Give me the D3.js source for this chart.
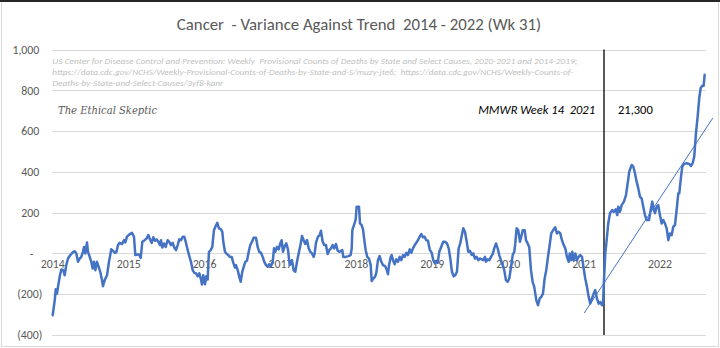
<!DOCTYPE html>
<html>
<head>
<meta charset="utf-8">
<script src="https://cdn.jsdelivr.net/npm/d3@7"></script>
<style>
  html, body { margin: 0; padding: 0; background: #fff; }
  svg { display: block; }
  text { font-family: Carlito, Lato, "Open Sans", sans-serif; }
</style>
</head>
<body>
<svg id="chart" width="720" height="348"></svg>
<script>
// ---- DATA ----
const chartTitle = "Cancer  - Variance Against Trend  2014 - 2022 (Wk 31)";
const sourceLines = [
  "US Center for Disease Control and Prevention: Weekly  Provisional Counts of Deaths by State and Select Causes, 2020-2021 and 2014-2019;",
  "https://data.cdc.gov/NCHS/Weekly-Provisional-Counts-of-Deaths-by-State-and-S/muzy-jte6;  https://data.cdc.gov/NCHS/Weekly-Counts-of-",
  "Deaths-by-State-and-Select-Causes/3yf8-kanr"
];
const brandText = "The Ethical Skeptic";
const markerLabel = "MMWR Week 14  2021";
const markerValueLabel = "21,300";
const markerYear = 2021.269;

const yTicks = [-400, -200, 0, 200, 400, 600, 800, 1000];
const yTickLabels = ["(400)", "(200)", "-", "200", "400", "600", "800", "1,000"];
const yearTicks = [2014, 2015, 2016, 2017, 2018, 2019, 2020, 2021, 2022];
const xDomain = [2014, 2022.613];

// trend line end points (decimal year, variance)
const trendYears = [2021.009, 2022.701];
const trendValues = [-292, 663];

// weekly variance series: decimal year and value
const weeks = [2014.005,2014.032,2014.045,2014.062,2014.075,2014.101,2014.119,2014.145,2014.163,2014.184,2014.207,2014.237,2014.273,2014.295,2014.316,2014.339,2014.361,2014.382,2014.404,2014.418,2014.435,2014.457,2014.470,2014.493,2014.514,2014.532,2014.549,2014.567,2014.589,2014.611,2014.632,2014.655,2014.668,2014.690,2014.721,2014.747,2014.777,2014.800,2014.822,2014.843,2014.866,2014.888,2014.918,2014.945,2014.962,2014.984,2015.020,2015.050,2015.076,2015.094,2015.120,2015.142,2015.165,2015.186,2015.217,2015.244,2015.265,2015.287,2015.310,2015.331,2015.353,2015.375,2015.397,2015.419,2015.432,2015.449,2015.472,2015.494,2015.520,2015.541,2015.564,2015.586,2015.607,2015.630,2015.652,2015.673,2015.696,2015.718,2015.739,2015.758,2015.784,2015.805,2015.827,2015.850,2015.871,2015.893,2015.916,2015.937,2015.959,2015.972,2015.989,2016.012,2016.029,2016.047,2016.064,2016.087,2016.108,2016.130,2016.153,2016.174,2016.196,2016.223,2016.240,2016.253,2016.275,2016.298,2016.319,2016.341,2016.364,2016.385,2016.407,2016.420,2016.443,2016.464,2016.482,2016.503,2016.522,2016.543,2016.565,2016.588,2016.609,2016.631,2016.653,2016.684,2016.706,2016.727,2016.750,2016.772,2016.793,2016.816,2016.838,2016.859,2016.881,2016.904,2016.921,2016.938,2016.960,2016.983,2017.004,2017.022,2017.039,2017.062,2017.083,2017.105,2017.128,2017.145,2017.158,2017.180,2017.202,2017.224,2017.246,2017.267,2017.290,2017.312,2017.333,2017.356,2017.378,2017.399,2017.422,2017.444,2017.457,2017.474,2017.501,2017.523,2017.540,2017.562,2017.584,2017.606,2017.628,2017.649,2017.672,2017.694,2017.715,2017.738,2017.760,2017.781,2017.821,2017.834,2017.866,2017.900,2017.931,2017.945,2017.953,2017.975,2017.997,2018.010,2018.041,2018.054,2018.076,2018.094,2018.111,2018.129,2018.150,2018.172,2018.195,2018.208,2018.229,2018.252,2018.269,2018.291,2018.313,2018.335,2018.357,2018.384,2018.401,2018.423,2018.437,2018.459,2018.472,2018.489,2018.511,2018.532,2018.555,2018.577,2018.598,2018.621,2018.643,2018.664,2018.686,2018.709,2018.730,2018.752,2018.775,2018.796,2018.818,2018.840,2018.862,2018.884,2018.906,2018.927,2018.950,2018.972,2018.999,2019.020,2019.042,2019.064,2019.078,2019.099,2019.121,2019.151,2019.178,2019.200,2019.223,2019.244,2019.266,2019.288,2019.309,2019.332,2019.354,2019.375,2019.394,2019.415,2019.437,2019.464,2019.481,2019.503,2019.526,2019.547,2019.569,2019.591,2019.613,2019.635,2019.657,2019.679,2019.701,2019.714,2019.736,2019.758,2019.780,2019.802,2019.823,2019.846,2019.868,2019.889,2019.911,2019.934,2019.955,2019.977,2020.000,2020.021,2020.043,2020.066,2020.087,2020.100,2020.118,2020.139,2020.162,2020.179,2020.198,2020.224,2020.241,2020.263,2020.284,2020.307,2020.329,2020.350,2020.377,2020.399,2020.422,2020.443,2020.465,2020.487,2020.508,2020.531,2020.553,2020.574,2020.606,2020.627,2020.649,2020.672,2020.693,2020.715,2020.738,2020.759,2020.781,2020.804,2020.817,2020.838,2020.851,2020.869,2020.891,2020.913,2020.935,2020.956,2020.979,2021.001,2021.022,2021.045,2021.067,2021.088,2021.111,2021.133,2021.154,2021.176,2021.199,2021.220,2021.242,2021.256,2021.269,2021.286,2021.302,2021.325,2021.348,2021.378,2021.400,2021.423,2021.444,2021.457,2021.479,2021.502,2021.532,2021.559,2021.581,2021.602,2021.634,2021.655,2021.677,2021.699,2021.721,2021.743,2021.765,2021.786,2021.809,2021.831,2021.862,2021.884,2021.905,2021.928,2021.941,2021.963,2021.984,2022.006,2022.029,2022.050,2022.072,2022.095,2022.116,2022.138,2022.161,2022.182,2022.204,2022.226,2022.248,2022.261,2022.279,2022.300,2022.323,2022.358,2022.392,2022.415,2022.437,2022.458,2022.481,2022.503,2022.524,2022.543,2022.564,2022.582,2022.595];
const variance = [-303,-230,-176,-197,-164,-107,-79,-82,-107,-57,-25,-8,6,11,0,-41,-25,-17,8,32,0,54,8,-17,-41,-74,-41,-82,-41,-66,-90,-131,-161,-131,-107,-41,20,13,3,5,41,52,46,65,54,82,95,101,82,-8,-5,-5,-22,57,65,74,90,69,52,79,62,69,57,41,65,29,49,32,65,57,41,52,29,16,41,69,65,82,82,57,16,-13,-41,-82,-95,-98,-112,-98,-128,-152,-107,-151,-112,-128,8,16,32,114,134,150,123,118,106,57,8,-3,-8,-17,-17,-46,-69,-57,-82,-115,-139,-90,-66,-41,-36,8,41,57,77,77,32,8,3,-17,-41,-57,-66,-53,-62,-41,25,8,32,20,49,65,8,36,49,20,-57,-49,-33,-82,-90,-41,0,36,85,65,46,65,25,8,0,-17,0,52,82,90,111,57,41,41,-3,16,25,41,25,46,13,8,16,-17,-17,-13,-8,25,114,139,164,229,229,147,139,118,65,16,-17,-25,-57,-135,-123,-115,-95,-33,-13,-41,-57,-62,-74,-102,-57,-17,-8,-33,-53,-29,-41,-17,-33,-8,-17,3,-8,20,3,25,41,52,65,82,95,79,82,65,62,20,3,-33,-49,-36,-46,8,29,57,57,49,25,-25,-90,-112,-107,-90,25,49,85,123,106,49,8,13,-8,0,-25,-17,-33,-25,-29,-33,-17,-41,-29,-33,-17,-3,25,49,25,-8,-33,-57,-82,-131,-139,-123,-69,-8,8,49,123,114,57,82,114,114,65,49,32,-82,-139,-164,-229,-254,-221,-213,-197,-123,-82,-17,41,98,118,128,98,106,98,65,41,25,-17,-41,0,-33,8,-33,0,-33,-17,-8,-17,-74,-123,-164,-213,-246,-221,-197,-180,-221,-246,-238,-254,-246,-131,0,57,147,197,213,204,216,188,229,204,237,254,286,344,401,434,426,393,352,319,278,270,229,188,164,164,213,254,213,197,229,237,188,147,164,147,123,65,98,90,131,139,213,295,295,360,426,439,442,439,429,442,475,590,671,762,811,822,822,876];

// ---- DRAWING ----
const W = 720, H = 348;
const margin = { left: 52.3, right: 14, top: 49.5, bottom: 13 };
const svg = d3.select("#chart");

svg.append("rect").attr("x", 1.5).attr("y", 1.5).attr("width", W - 3).attr("height", H - 3)
  .attr("fill", "#fff").attr("stroke", "#D9D9D9");
svg.append("line").attr("x1", 0).attr("x2", W).attr("y1", 1).attr("y2", 1)
  .attr("stroke", "#262626").attr("stroke-width", 2);

const x = d3.scaleLinear().domain(xDomain).range([margin.left, W - margin.right]);
const y = d3.scaleLinear().domain([-400, 1000]).range([H - margin.bottom, margin.top]);

// gridlines
svg.append("g").selectAll("line").data(yTicks).join("line")
  .attr("x1", x.range()[0]).attr("x2", x.range()[1])
  .attr("y1", d => Math.round(y(d)) + 0.5).attr("y2", d => Math.round(y(d)) + 0.5)
  .attr("stroke", "#D9D9D9").attr("stroke-width", 1);

// y axis labels
const yAxis = d3.axisLeft(y).tickValues(yTicks).tickSize(0).tickPadding(0)
  .tickFormat((d, i) => yTickLabels[i]);
const yg = svg.append("g").attr("transform", `translate(${margin.left - 13},0)`).call(yAxis);
yg.select(".domain").remove();
yg.selectAll("text")
  .attr("fill", "#595959").style("font-size", "11.8px")
  .attr("dx", d => d < 0 ? 3 : (d === 0 ? -6 : 0));

// x axis labels (year starts), placed just under the zero line
const xAxis = d3.axisBottom(x).tickValues(yearTicks).tickSize(0).tickPadding(0).tickFormat(d3.format("d"));
const xg = svg.append("g").attr("transform", `translate(0,${y(0) + 6})`).call(xAxis);
xg.select(".domain").remove();
xg.selectAll("text").attr("fill", "#595959").style("font-size", "11.8px");

// title
svg.append("text").attr("x", 359).attr("y", 29.5).attr("text-anchor", "middle")
  .attr("fill", "#595959").style("font-size", "16.8px")
  .attr("xml:space", "preserve").text(chartTitle);

// source text
const srcWidths = [525, 521, 171];
svg.append("g").selectAll("text").data(sourceLines).join("text")
  .attr("x", margin.left).attr("y", (d, i) => 64 + i * 11)
  .attr("fill", "#BFBFBF").style("font-size", "8.6px").style("font-style", "italic")
  .attr("xml:space", "preserve")
  .attr("textLength", (d, i) => srcWidths[i]).attr("lengthAdjust", "spacingAndGlyphs")
  .text(d => d);

// brand
svg.append("text").attr("x", 58).attr("y", 114)
  .attr("fill", "#595959").style("font-family", "'DejaVu Serif', serif")
  .style("font-style", "italic").style("font-size", "11px")
  .attr("textLength", 99).attr("lengthAdjust", "spacingAndGlyphs")
  .text(brandText);

// marker vertical line
svg.append("line").attr("x1", x(markerYear)).attr("x2", x(markerYear))
  .attr("y1", y(1000)).attr("y2", y(-400))
  .attr("stroke", "#000").attr("stroke-width", 1.3);

svg.append("text").attr("x", x(markerYear) - 9).attr("y", 114).attr("text-anchor", "end")
  .attr("fill", "#000").style("font-size", "12.5px").style("font-style", "italic")
  .attr("xml:space", "preserve").text(markerLabel);
svg.append("text").attr("x", x(markerYear) + 14).attr("y", 114)
  .attr("fill", "#000").style("font-size", "12.5px").text(markerValueLabel);

// series line
const series = weeks.map((w, i) => ({ t: w, v: variance[i] }));
const line = d3.line().x(d => x(d.t)).y(d => y(d.v));
svg.append("path").datum(series).attr("d", line)
  .attr("fill", "none").attr("stroke", "#4472C4").attr("stroke-width", 2.5)
  .attr("stroke-linejoin", "round").attr("stroke-linecap", "round");

// trend line
const trend = trendYears.map((t, i) => ({ t, v: trendValues[i] }));
svg.append("path").datum(trend).attr("d", line)
  .attr("fill", "none").attr("stroke", "#4472C4").attr("stroke-width", 1);
</script>
</body>
</html>
